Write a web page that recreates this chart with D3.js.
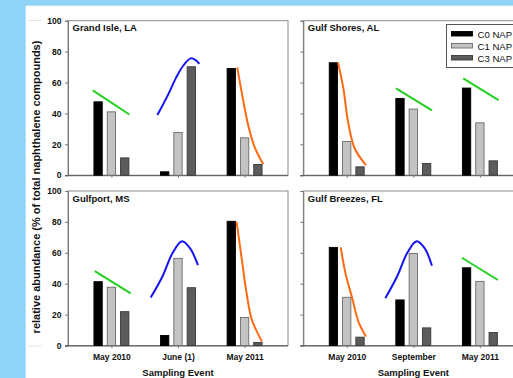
<!DOCTYPE html>
<html><head><meta charset="utf-8">
<script src="https://cdn.jsdelivr.net/npm/d3@7/dist/d3.min.js"></script>
<style>html,body{margin:0;padding:0;background:#fff;overflow:hidden}svg{display:block}</style>
</head><body><svg id="c" width="513" height="378"></svg>
<script>
// ---------- data ----------
const sites = ["Grand Isle, LA", "Gulf Shores, AL", "Gulfport, MS", "Gulf Breezes, FL"];
const eventsLeft = ["May 2010", "June (1)", "May 2011"];
const eventsRight = ["May 2010", "September", "May 2011"];
const seriesNames = ["C0 NAP", "C1 NAP", "C3 NAP"];
const c0Values = [[47.5, 2.2, 69.1], [72.8, 49.7, 56.4], [41.3, 6.5, 80.4], [63.5, 29.5, 50.3]];
const c1Values = [[41.0, 27.7, 24.2], [21.8, 42.8, 33.9], [37.7, 56.4, 18.1], [31.2, 59.6, 41.5]];
const c3Values = [[11.2, 70.2, 6.9], [5.4, 7.6, 9.3], [21.9, 37.4, 2.0], [5.4, 11.4, 8.4]];
const yTicks = [0, 20, 40, 60, 80, 100];
const xTitle = "Sampling Event";
const yTitle = "relative abundance (% of total naphthalene compounds)";
// hand-drawn trend marks: site index, event index, points [offset in event units, %]
const greenTrends = [
  {site: 0, ev: 0, pts: [[-0.28, 54.9], [0.27, 39.3]]},
  {site: 1, ev: 1, pts: [[-0.26, 56.2], [0.28, 41.9]]},
  {site: 1, ev: 2, pts: [[-0.25, 62.7], [0.28, 48.6]]},
  {site: 2, ev: 0, pts: [[-0.25, 48.2], [0.29, 33.8]]},
  {site: 3, ev: 2, pts: [[-0.27, 56.8], [0.27, 42.4]]}
];
const blueTrends = [
  {site: 0, ev: 1, pts: [[-0.31, 38.9], [-0.15, 52], [-0.03, 63], [0.08, 71], [0.19, 75.6], [0.26, 74.6], [0.32, 72]]},
  {site: 2, ev: 1, pts: [[-0.41, 31], [-0.23, 45], [-0.08, 60], [0.06, 67.5], [0.18, 63], [0.30, 52]]},
  {site: 3, ev: 1, pts: [[-0.42, 30.6], [-0.24, 45], [-0.09, 60], [0.05, 67.5], [0.17, 63], [0.28, 51.6]]}
];
const orangeTrends = [
  {site: 0, ev: 2, pts: [[-0.11, 69.8], [-0.04, 52.9], [0.06, 31.3], [0.15, 18.3], [0.28, 7.1]]},
  {site: 1, ev: 0, pts: [[-0.13, 73], [-0.05, 56.2], [0.02, 34.5], [0.12, 17.3], [0.29, 6.5]]},
  {site: 2, ev: 2, pts: [[-0.12, 80], [-0.04, 55.3], [0.03, 33.8], [0.11, 16.6], [0.26, 2.6]]},
  {site: 3, ev: 0, pts: [[-0.09, 63.5], [-0.02, 47], [0.08, 31], [0.18, 15], [0.29, 5.8]]}
];

// ---------- layout ----------
const W = 513, H = 378;
const svg = d3.select("#c");
const font = "Arial, 'Liberation Sans', sans-serif";
svg.append("rect").attr("width", W).attr("height", H).attr("fill", "#8fd4f6");
svg.append("rect").attr("x", 25.7).attr("y", 5.7).attr("width", W).attr("height", H).attr("fill", "#fff");
svg.append("line").attr("x1", 28).attr("x2", 42).attr("y1", 20.5).attr("y2", 20.5).attr("stroke", "#e6e6e6");
svg.append("line").attr("x1", 28).attr("x2", 42).attr("y1", 346).attr("y2", 346).attr("stroke", "#e6e6e6");

const panelW = 220, panelH = 154.5;
const panels = [{x: 68, y: 20.7}, {x: 303.3, y: 20.7}, {x: 68, y: 191}, {x: 303.3, y: 191}];
const seriesData = [c0Values, c1Values, c3Values];
const fills = ["#000000", "#c3c3c3", "#5c5c5c"];
const strokes = ["#000000", "#6a6a6a", "#383838"];

const xs = d3.scaleLinear().domain([-0.652, 2.652]).range([0, panelW]);
const band = d3.scaleBand().domain(seriesNames).range([-0.3, 0.3]).paddingInner(0.375).paddingOuter(0.1875);
const ys = d3.scaleLinear().domain([0, 100]).range([panelH, 0]);
const line = d3.line().x(d => xs(d[0])).y(d => ys(d[1])).curve(d3.curveCatmullRom.alpha(0.5));

panels.forEach((p, si) => {
  const g = svg.append("g").attr("transform", `translate(${p.x},${p.y})`);
  const isLeft = si % 2 === 0, isBottom = si >= 2;
  const events = isLeft ? eventsLeft : eventsRight;
  // frame
  g.append("rect").attr("x", 0).attr("y", 0).attr("width", panelW).attr("height", panelH)
    .attr("fill", "none").attr("stroke", "#8a8a8a").attr("stroke-width", 1);
  // y axis
  const ya = g.append("g").call(d3.axisLeft(ys).tickValues(yTicks).tickSize(3).tickPadding(3.5)
    .tickFormat(isLeft ? d3.format("d") : () => ""));
  ya.select(".domain").attr("stroke", "#777");
  ya.selectAll(".tick line").attr("stroke", "#777");
  ya.selectAll("text").attr("font-family", font).attr("font-weight", "bold").attr("font-size", 8.5).attr("fill", "#111");
  // x axis
  const xa = g.append("g").attr("transform", `translate(0,${panelH})`)
    .call(d3.axisBottom(xs).tickValues([0, 1, 2]).tickSize(2.5).tickPadding(5.5)
      .tickFormat(isBottom ? (d => events[d]) : () => ""));
  xa.select(".domain").attr("stroke", "#555").attr("d", `M-3,0.5H${panelW}`);
  xa.selectAll(".tick line").attr("stroke", "#777");
  xa.selectAll("text").attr("font-family", font).attr("font-weight", "bold").attr("font-size", 8.5).attr("fill", "#111");
  // bars
  seriesNames.forEach((s, k) => {
    g.append("g").selectAll("rect").data(seriesData[k][si]).join("rect")
      .attr("x", (d, i) => xs(i + band(s)))
      .attr("y", d => ys(d))
      .attr("width", xs(band.bandwidth()) - xs(0))
      .attr("height", d => ys(0) - ys(d))
      .attr("fill", fills[k]).attr("stroke", strokes[k]).attr("stroke-width", 0.9);
  });
  // title
  g.append("text").attr("x", 4.5).attr("y", 10.8).text(sites[si])
    .attr("font-family", font).attr("font-weight", "bold").attr("font-size", 9.5).attr("fill", "#111");
  // trend marks
  const drawTrends = (arr, color) => arr.filter(t => t.site === si).forEach(t => {
    g.append("path").attr("d", line(t.pts.map(q => [t.ev + q[0], q[1]])))
      .attr("fill", "none").attr("stroke", color).attr("stroke-width", 2);
  });
  drawTrends(greenTrends, "#22d020");
  drawTrends(blueTrends, "#1414f0");
  drawTrends(orangeTrends, "#ff6a14");
  if (isBottom) {
    g.append("text").attr("x", panelW / 2).attr("y", panelH + 27).attr("text-anchor", "middle").text(xTitle)
      .attr("font-family", font).attr("font-weight", "bold").attr("font-size", 9.5).attr("fill", "#111")
      .attr("dominant-baseline", "central");
  }
});

// y title
svg.append("text").attr("transform", "translate(36,187) rotate(-90)").attr("text-anchor", "middle")
  .attr("dominant-baseline", "central").text(yTitle)
  .attr("font-family", font).attr("font-weight", "bold").attr("font-size", 11).attr("fill", "#111");

// legend
const lg = svg.append("g").attr("transform", "translate(446.5,24.5)");
lg.append("rect").attr("width", 80).attr("height", 43).attr("fill", "#fff").attr("stroke", "#555");
seriesNames.forEach((s, k) => {
  const cy = 9.5 + k * 12;
  lg.append("rect").attr("x", 5).attr("y", cy - 2.5).attr("width", 21).attr("height", 4.5)
    .attr("fill", fills[k]).attr("stroke", strokes[k]).attr("stroke-width", 0.9);
  lg.append("text").attr("x", 31).attr("y", cy).attr("dominant-baseline", "central").text(s)
    .attr("font-family", font).attr("font-size", 9.6).attr("fill", "#111");
});
</script>
</body></html>
